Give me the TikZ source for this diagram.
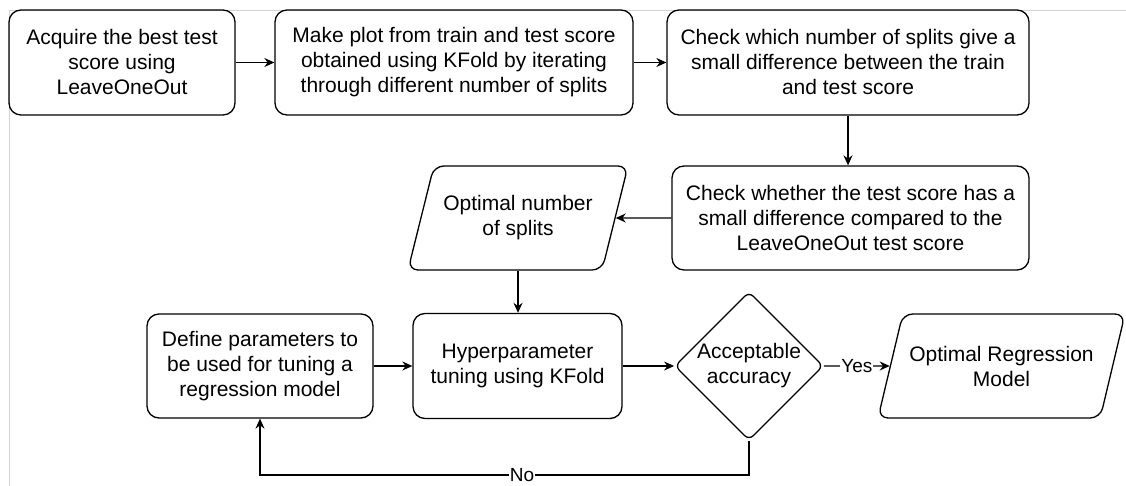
\documentclass[tikz,border=0pt]{standalone}
\usepackage{fontspec}
\setmainfont{Liberation Sans}
\usetikzlibrary{shapes.geometric,arrows.meta}

\tikzset{
  box/.style={draw, rounded corners=12pt, line width=1.3pt, minimum height=105pt,
    align=center, inner sep=0pt, font=\fontsize{21}{25}\selectfont},
  data/.style={draw, trapezium, trapezium left angle=75, trapezium right angle=105,
    trapezium stretches body=true, rounded corners=10pt, line width=1.3pt,
    minimum height=104pt, align=center, inner xsep=0pt, inner ysep=26pt,
    font=\fontsize{21}{25}\selectfont},
  decision/.style={draw, diamond, rounded corners=6pt, line width=1.3pt,
    minimum width=148pt, minimum height=146pt, align=center, inner sep=0pt,
    font=\fontsize{21}{25}\selectfont},
  arr/.style={-{Stealth[length=10pt,width=9pt]}, line width=1.3pt},
  lbl/.style={fill=white, inner sep=1pt, font=\fontsize{19}{22}\selectfont}
}

\begin{document}
\begin{tikzpicture}[x=1pt,y=1pt]
\useasboundingbox (0,0) rectangle (1126,486);
%\draw[step=10pt,gray,very thin] (0,0) grid (1126,486);
\draw[gray!35, line width=0.8pt] (9,0) -- (9,476) -- (1126,476);

% top row
\node[box, minimum width=226pt] (best) at (122,423.5) {Acquire the best test\\score using\\LeaveOneOut};
\node[box, minimum width=358pt] (plot) at (454,423.5) {Make plot from train and test score\\obtained using KFold by iterating\\through different number of splits};
\node[box, minimum width=362pt] (diff) at (848,423.5) {Check which number of splits give a\\small difference between the train\\and test score};

% middle row
\node[box, minimum width=357pt, minimum height=104pt] (compare) at (850.5,268) {Check whether the test score has a\\small difference compared to the\\LeaveOneOut test score};
\node[data, minimum width=220pt] (splits) at (518,268) {Optimal number\\of splits};

% bottom row
\node[box, minimum width=226pt, minimum height=104pt] (params) at (260,120) {Define parameters to\\be used for tuning a\\regression model};
\node[box, minimum width=209pt] (tuning) at (517.5,120) {Hyperparameter\\tuning using KFold};
\node[decision] (accept) at (749,120) {Acceptable\\accuracy};
\node[data, minimum width=247pt] (model) at (1001.5,120) {Optimal Regression\\Model};

\draw[arr] (best) -- (plot);
\draw[arr] (plot) -- (diff);
\draw[arr] (diff.south) -- (diff.south |- compare.north);
\draw[arr] (compare.west) -- (splits);
\draw[arr] (splits.south) -- (splits.south |- tuning.north);
\draw[arr] (params) -- (tuning);
\draw[arr] (tuning) -- (accept);
\draw[arr] (accept.east) -- node[lbl]{Yes} (model);
\draw[arr] (accept.south) -- ++(0,-34) -| node[lbl,pos=0.232]{No} (params.south);

\end{tikzpicture}
\end{document}
